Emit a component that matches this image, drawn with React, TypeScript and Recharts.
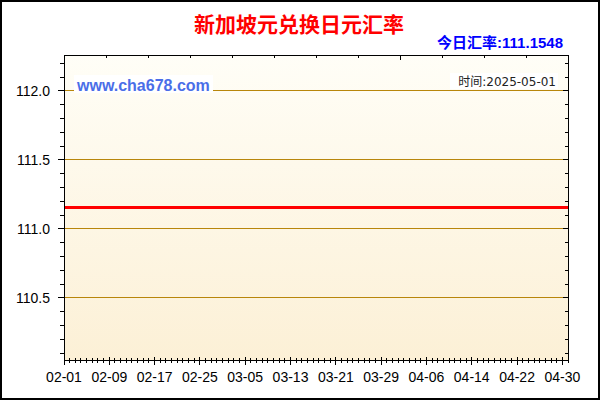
import { CartesianGrid, Line, LineChart, XAxis, YAxis } from "recharts"

// days counted from 02-01
const days = [0, 8, 16, 24, 32, 40, 48, 56, 64, 72, 80, 88, 89]
const rates = [
  111.1548, 111.1548, 111.1548, 111.1548, 111.1548, 111.1548, 111.1548,
  111.1548, 111.1548, 111.1548, 111.1548, 111.1548, 111.1548,
]
const xTickDays = [0, 8, 16, 24, 32, 40, 48, 56, 64, 72, 80, 88]
const xTickLabels = [
  "02-01", "02-09", "02-17", "02-25", "03-05", "03-13",
  "03-21", "03-29", "04-06", "04-14", "04-22", "04-30",
]
const yTicks = [110.5, 111.0, 111.5, 112.0]

const title = "新加坡元兑换日元汇率"
const todayText = "今日汇率:111.1548"
const siteText = "www.cha678.com"
const timeText = "时间:2025-05-01"

const data = days.map((d, i) => ({ day: d, rate: rates[i] }))
const dayTicks = Array.from({ length: 90 }, (_, i) => i)
const yAllTicks = Array.from({ length: 22 }, (_, i) => Math.round((110.1 + i * 0.1) * 10) / 10)

const xDomain = [0, 89]
const yDomain = [110.05, 112.26]
const labelFont = { fill: "#000", fontSize: 14, fontFamily: "'Liberation Sans', Arial, sans-serif" }

const isMajorY = (v: number) => yTicks.some((t) => Math.abs(t - v) < 1e-6)

const BottomTick = ({ x, y, payload }: any) => {
  const i = xTickDays.indexOf(payload.value)
  const major = i >= 0
  return (
    <g>
      <line x1={x} x2={x} y1={y - (major ? 3 : 2)} y2={y + (major ? 5 : 3)} stroke="#000" />
      {major && (
        <text x={x} y={y + 12} dy="0.71em" textAnchor="middle" {...labelFont}>
          {xTickLabels[i]}
        </text>
      )}
    </g>
  )
}

const TopTick = ({ x, y, payload }: any) => {
  const major = xTickDays.includes(payload.value)
  return <line x1={x} x2={x} y1={y} y2={y + (major ? 5 : 3)} stroke="#000" />
}

const LeftTick = ({ x, y, payload }: any) => {
  const major = isMajorY(payload.value)
  return (
    <g>
      <line x1={x - (major ? 6 : 4)} x2={x} y1={y} y2={y} stroke="#000" />
      {major && (
        <text x={x - 14} y={y} dy="0.36em" textAnchor="end" {...labelFont}>
          {payload.value.toFixed(1)}
        </text>
      )}
    </g>
  )
}

const RightTick = ({ x, y, payload }: any) => {
  const major = isMajorY(payload.value)
  return <line x1={x - (major ? 5 : 3)} x2={x} y1={y} y2={y} stroke="#000" />
}

export default function App() {
  return (
    <div style={{ position: "relative", width: 600, height: 400, background: "#fff", shapeRendering: "crispEdges" }}>
      <style>{"body{margin:0}"}</style>
      <LineChart width={600} height={400} data={data} margin={{ top: 54, right: 31, bottom: 0, left: 0 }}>
        <defs>
          <linearGradient id="bg" x1="0" y1="0" x2="0" y2="1">
            <stop offset="0" stopColor="#fffef7" />
            <stop offset="1" stopColor="#fcf0d6" />
          </linearGradient>
        </defs>
        <CartesianGrid vertical={false} horizontalValues={yTicks} stroke="#b8860b" fill="url(#bg)" fillOpacity={1} />
        <XAxis
          dataKey="day"
          type="number"
          domain={xDomain}
          ticks={dayTicks}
          interval={0}
          height={40}
          tickSize={0}
          tickMargin={0}
          tickLine={false}
          stroke="#000"
          tick={BottomTick}
          allowDataOverflow
        />
        <XAxis
          xAxisId="top"
          orientation="top"
          type="number"
          domain={xDomain}
          ticks={dayTicks}
          interval={0}
          height={1}
          tickSize={0}
          tickMargin={0}
          tickLine={false}
          stroke="#000"
          tick={TopTick}
          allowDataOverflow
        />
        <YAxis
          type="number"
          domain={yDomain}
          ticks={yAllTicks}
          interval={0}
          width={64}
          tickSize={0}
          tickMargin={0}
          tickLine={false}
          stroke="#000"
          tick={LeftTick}
          allowDataOverflow
        />
        <YAxis
          yAxisId="right"
          orientation="right"
          type="number"
          domain={yDomain}
          ticks={yAllTicks}
          interval={0}
          width={1}
          tickSize={0}
          tickMargin={0}
          tickLine={false}
          stroke="#000"
          tick={RightTick}
          allowDataOverflow
        />
        <Line dataKey="rate" stroke="#ff0000" strokeWidth={3} dot={false} isAnimationActive={false} />
      </LineChart>
      <svg width={600} height={400} style={{ position: "absolute", left: 0, top: 0, pointerEvents: "none" }}>
        <text x={299} y={32} textAnchor="middle" fontSize={21} fontWeight="bold" fill="#ff0000"
          fontFamily="'Noto Sans CJK SC', sans-serif">{title}</text>
        <text x={563} y={47.5} textAnchor="end" fontSize={15} fontWeight="bold" fill="#0000ff"
          fontFamily="'Liberation Sans', Arial, 'Noto Sans CJK SC', sans-serif">{todayText}</text>
        <rect x={74} y={75} width={139} height={18} fill="#fff" />
        <text x={77} y={90.5} fontSize={16} fontWeight="bold" fill="#4a6ee8"
          fontFamily="'Liberation Sans', Arial, sans-serif">{siteText}</text>
        <rect x={450} y={73} width={108} height={16} fill="#fff" />
        <text x={556} y={86} textAnchor="end" fontSize={12} fill="#222"
          fontFamily="'DejaVu Sans', 'Noto Sans CJK SC', sans-serif">{timeText}</text>
        <rect x={1} y={1} width={598} height={398} fill="none" stroke="#000" strokeWidth={2} />
      </svg>
    </div>
  )
}
